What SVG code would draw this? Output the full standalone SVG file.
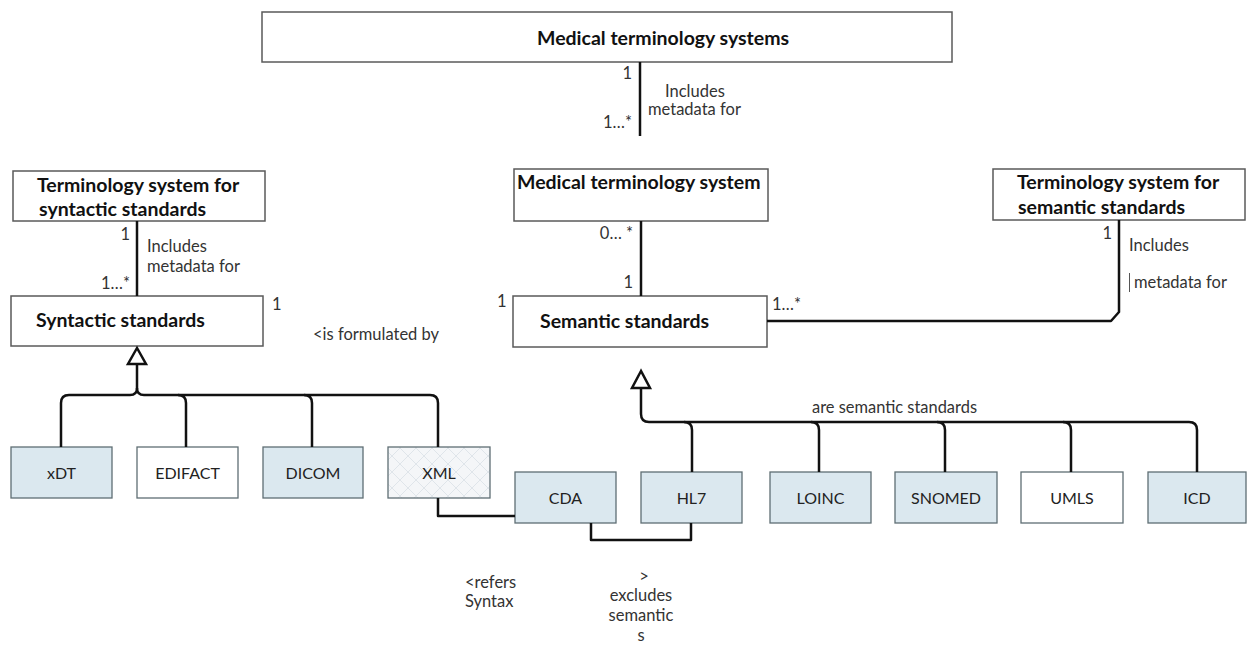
<svg xmlns="http://www.w3.org/2000/svg" width="1248" height="645" viewBox="0 0 1248 645">
  <defs>
    <pattern id="lattice" width="16" height="16" patternUnits="userSpaceOnUse">
      <rect width="16" height="16" fill="#f4f6f8"/>
      <path d="M0,0 L16,16 M16,0 L0,16" stroke="#dfe5ea" stroke-width="1"/>
    </pattern>
    <style>
      .box { fill: #ffffff; stroke: #5a5a5a; stroke-width: 1.5; }
      .std { stroke: #5f6e73; stroke-width: 1.3; }
      .blue { fill: #dbe8ef; }
      .white { fill: #ffffff; }
      .hatch { fill: url(#lattice); }
      .title { font-family: Lato, "Liberation Sans", sans-serif; font-weight: bold; font-size: 19.5px; fill: #111; }
      .lbl { font-family: Lato, "Liberation Sans", sans-serif; font-size: 16.5px; fill: #333; }
      .std-lbl { font-family: Lato, "Liberation Sans", sans-serif; font-size: 16px; fill: #222; text-anchor: middle; }
      .conn { fill: none; stroke: #111; stroke-width: 2.5; stroke-linejoin: round; }
      .head { fill: #fff; stroke: #111; stroke-width: 2.5; stroke-linejoin: miter; }
    </style>
  </defs>
  <rect width="1248" height="645" fill="#ffffff"/>

  <!-- class boxes -->
  <g id="medical-terminology-systems">
    <rect class="box" x="262" y="12" width="690" height="50"/>
    <text class="title" x="537" y="45">Medical terminology systems</text>
  </g>
  <g id="terminology-syntactic">
    <rect class="box" x="13" y="171" width="252" height="50"/>
    <text class="title" x="37" y="192">Terminology system for</text>
    <text class="title" x="39" y="216">syntactic standards</text>
  </g>
  <g id="syntactic-standards">
    <rect class="box" x="11" y="296" width="252" height="50"/>
    <text class="title" x="36" y="327">Syntactic standards</text>
  </g>
  <g id="medical-terminology-system">
    <rect class="box" x="514" y="169" width="254" height="52"/>
    <text class="title" x="517" y="189">Medical  terminology system</text>
  </g>
  <g id="semantic-standards">
    <rect class="box" x="513" y="296" width="254" height="51"/>
    <text class="title" x="540" y="328">Semantic  standards</text>
  </g>
  <g id="terminology-semantic">
    <rect class="box" x="993" y="169" width="252" height="51"/>
    <text class="title" x="1017" y="189">Terminology system for</text>
    <text class="title" x="1018" y="214">semantic standards</text>
  </g>

  <!-- standards -->
  <g id="xdt"><rect class="std blue" x="11" y="447" width="101" height="51"/><text class="std-lbl" x="61.5" y="479">xDT</text></g>
  <g id="edifact"><rect class="std white" x="137" y="447" width="101" height="51"/><text class="std-lbl" x="187.5" y="479">EDIFACT</text></g>
  <g id="dicom"><rect class="std blue" x="263" y="447" width="100" height="51"/><text class="std-lbl" x="313" y="479">DICOM</text></g>
  <g id="xml"><rect class="std hatch" x="388" y="447" width="102" height="51"/><text class="std-lbl" x="439" y="479">XML</text></g>
  <g id="cda"><rect class="std blue" x="515" y="472" width="101" height="51"/><text class="std-lbl" x="565.5" y="504">CDA</text></g>
  <g id="hl7"><rect class="std blue" x="641" y="472" width="101" height="51"/><text class="std-lbl" x="691.5" y="504">HL7</text></g>
  <g id="loinc"><rect class="std blue" x="770" y="472" width="101" height="51"/><text class="std-lbl" x="820.5" y="504">LOINC</text></g>
  <g id="snomed"><rect class="std blue" x="895" y="472" width="102" height="51"/><text class="std-lbl" x="946" y="504">SNOMED</text></g>
  <g id="umls"><rect class="std white" x="1021" y="472" width="102" height="51"/><text class="std-lbl" x="1072" y="504">UMLS</text></g>
  <g id="icd"><rect class="std blue" x="1148" y="472" width="98" height="51"/><text class="std-lbl" x="1197" y="504">ICD</text></g>

  <!-- connectors -->
  <g id="connectors">
    <path class="conn" d="M640,62 V136"/>
    <path class="conn" d="M137,221 V296"/>
    <path class="conn" d="M641,221 V296"/>
    <path class="conn" d="M767,321 H1111 L1119,312 V220"/>

    <!-- syntactic generalisation -->
    <path class="conn" d="M137,364 V388 Q137,395 130,395 H69 Q61,395 61,403 V447"/>
    <path class="conn" d="M137,388 Q137,395 144,395 H430 Q438,395 438,403 V447"/>
    <path class="conn" d="M178,395 Q186,395 186,403 V447"/>
    <path class="conn" d="M304,395 Q312,395 312,403 V447"/>
    <polygon class="head" points="137,348 128,364 146,364"/>

    <!-- semantic generalisation -->
    <path class="conn" d="M641,388 V414 Q641,422 649,422 H1189 Q1197,422 1197,430 V472"/>
    <path class="conn" d="M684,422 Q692,422 692,430 V472"/>
    <path class="conn" d="M811,422 Q819,422 819,430 V472"/>
    <path class="conn" d="M937,422 Q945,422 945,430 V472"/>
    <path class="conn" d="M1063,422 Q1071,422 1071,430 V472"/>
    <polygon class="head" points="641,371 632,388 650,388"/>

    <!-- references between standards -->
    <path class="conn" d="M438,498 V516 H515"/>
    <path class="conn" d="M591,523 V540 H691 V523"/>
  </g>

  <!-- association labels -->
  <g id="labels">
    <text class="lbl" x="632" y="79" text-anchor="end">1</text>
    <text class="lbl" x="665" y="97">Includes</text>
    <text class="lbl" x="648" y="115">metadata for</text>
    <text class="lbl" x="632" y="128" text-anchor="end">1…*</text>

    <text class="lbl" x="130" y="240" text-anchor="end">1</text>
    <text class="lbl" x="147" y="252">Includes</text>
    <text class="lbl" x="147" y="272">metadata for</text>
    <text class="lbl" x="130" y="289" text-anchor="end">1…*</text>

    <text class="lbl" x="272" y="310">1</text>
    <text class="lbl" x="313" y="340">&lt;is formulated by</text>

    <text class="lbl" x="633" y="239" text-anchor="end">0… *</text>
    <text class="lbl" x="633" y="288" text-anchor="end">1</text>
    <text class="lbl" x="497" y="307">1</text>
    <text class="lbl" x="772" y="310">1…*</text>

    <text class="lbl" x="1112" y="239" text-anchor="end">1</text>
    <text class="lbl" x="1129" y="251">Includes</text>
    <line x1="1129.5" y1="273" x2="1129.5" y2="292" stroke="#555" stroke-width="1"/>
    <text class="lbl" x="1134" y="288">metadata for</text>

    <text class="lbl" x="812" y="413" font-size="13" textLength="165" lengthAdjust="spacingAndGlyphs">are semantic standards</text>

    <text class="lbl" x="465" y="588">&lt;refers</text>
    <text class="lbl" x="465" y="607">Syntax</text>
    <text class="lbl" x="644" y="582" text-anchor="middle">&gt;</text>
    <text class="lbl" x="641" y="601" text-anchor="middle">excludes</text>
    <text class="lbl" x="641" y="621" text-anchor="middle">semantic</text>
    <text class="lbl" x="641" y="641" text-anchor="middle">s</text>
  </g>
</svg>
